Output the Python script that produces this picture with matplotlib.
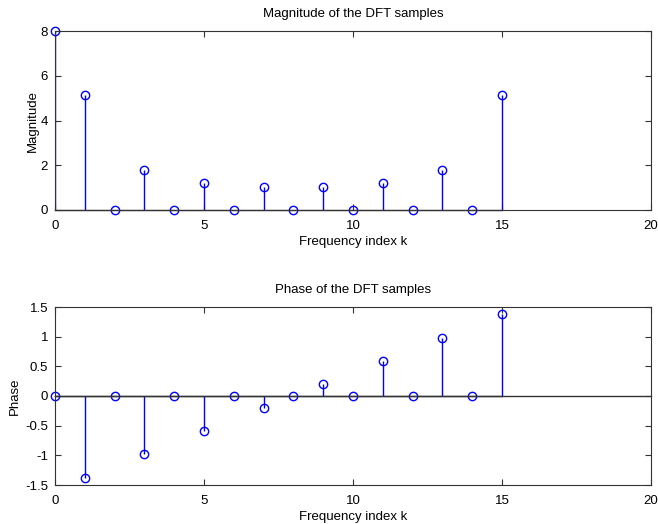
import matplotlib
matplotlib.use("Agg")
import matplotlib.pyplot as plt

plt.rcParams['font.family'] = ['Liberation Sans', 'DejaVu Sans']

k = [0, 1, 2, 3, 4, 5, 6, 7, 8, 9, 10, 11, 12, 13, 14, 15]
magnitude = [8.0, 5.126, 0.0, 1.800, 0.0, 1.203, 0.0, 1.020, 0.0, 1.020, 0.0, 1.203, 0.0, 1.800, 0.0, 5.126]
phase = [0.0, -1.374, 0.0, -0.982, 0.0, -0.589, 0.0, -0.196, 0.0, 0.196, 0.0, 0.589, 0.0, 0.982, 0.0, 1.374]

W, H = 658, 524
fig = plt.figure(figsize=(W / 100, H / 100), dpi=100)

def rect(l, t, r, b):
    return [l / W, 1 - b / H, (r - l) / W, (b - t) / H]

ax1 = fig.add_axes(rect(55, 31, 651, 210))
ax2 = fig.add_axes(rect(55, 307, 651, 485))

blue = '#0000ff'
fs = 9.5

def stem(ax, x, y):
    ml, sl, bl = ax.stem(x, y, basefmt='k-')
    plt.setp(sl, color=blue, linewidth=1.0)
    plt.setp(ml, color=blue, marker='o', markerfacecolor='none', markersize=6, markeredgewidth=1.0)
    plt.setp(bl, color='#333333', linewidth=1.0)

stem(ax1, k, magnitude)
stem(ax2, k, phase)
ax2.axhline(0, color='#333333', linewidth=1.0, zorder=1)

ax1.set_xlim(0, 20)
ax1.set_ylim(0, 8)
ax1.set_xticks([0, 5, 10, 15, 20])
ax1.set_yticks([0, 2, 4, 6, 8])
ax1.set_title('Magnitude of the DFT samples', fontsize=fs, pad=10)
ax1.set_xlabel('Frequency index k', fontsize=fs, labelpad=3)
ax1.set_ylabel('Magnitude', fontsize=fs, labelpad=1.5)

ax2.set_xlim(0, 20)
ax2.set_ylim(-1.5, 1.5)
ax2.set_xticks([0, 5, 10, 15, 20])
ax2.set_yticks([-1.5, -1, -0.5, 0, 0.5, 1, 1.5])
ax2.set_yticklabels(['-1.5', '-1', '-0.5', '0', '0.5', '1', '1.5'])
ax2.set_title('Phase of the DFT samples', fontsize=fs, pad=10)
ax2.set_xlabel('Frequency index k', fontsize=fs, labelpad=3)
ax2.set_ylabel('Phase', fontsize=fs, labelpad=3)

for ax in (ax1, ax2):
    ax.tick_params(direction='in', top=True, right=True, labelsize=fs, length=4, width=0.8, colors='#333333', labelcolor='black')
    ax.tick_params(axis='x', pad=7)
    ax.tick_params(axis='y', pad=5)
    for s in ax.spines.values():
        s.set_color('#333333')
        s.set_linewidth(0.8)
    for m in ax.get_lines():
        m.set_clip_on(False)

fig.savefig('out.png', dpi=100)
